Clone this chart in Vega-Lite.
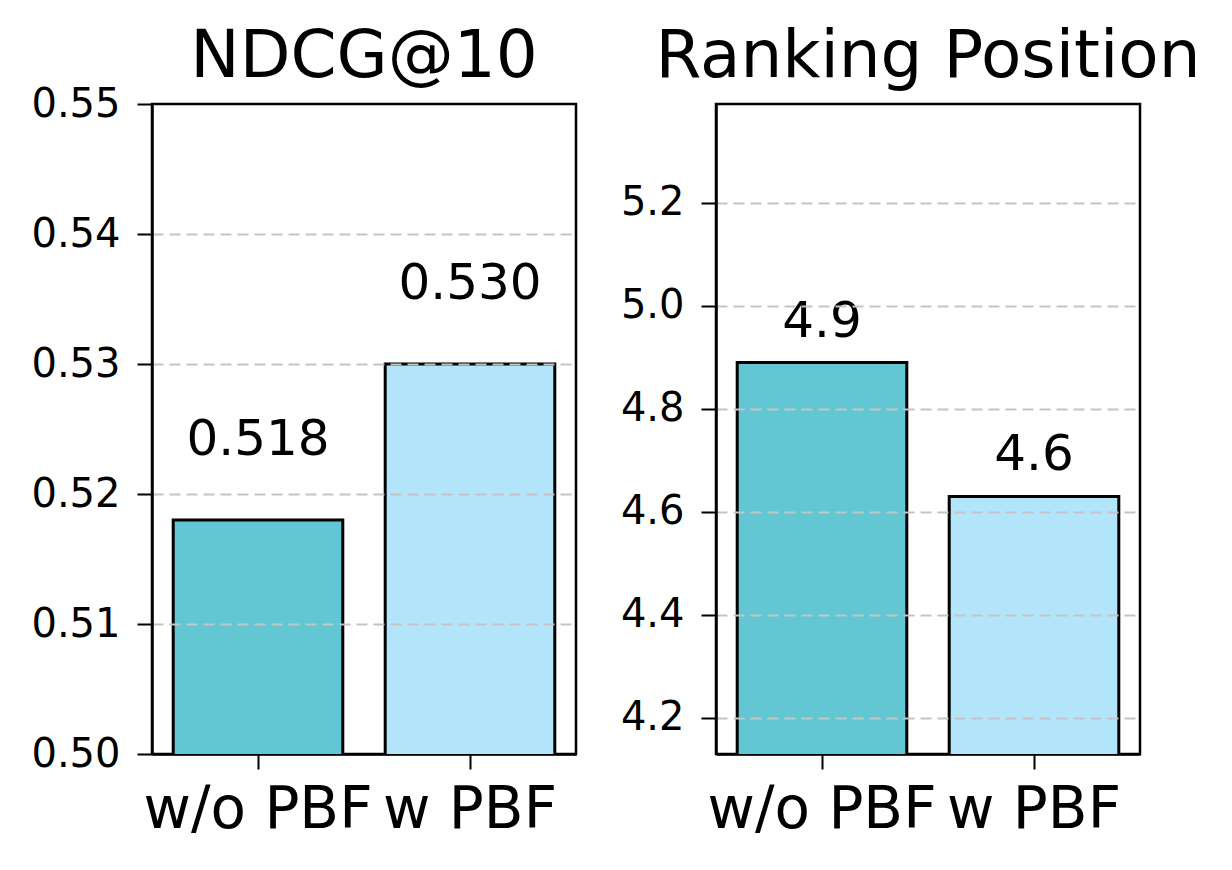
{
  "$schema": "https://vega.github.io/schema/vega-lite/v6.json",
  "background": "white",
  "padding": {"left": 29, "top": 22, "right": 5, "bottom": 5},
  "bounds": "flush",
  "spacing": 140,
  "config": {
    "font": "DejaVu Sans",
    "view": {"stroke": "black", "strokeWidth": 2.5},
    "title": {"fontSize": 66, "fontWeight": "normal", "color": "black", "frame": "group", "baseline": "alphabetic", "offset": 24, "anchor": "middle"},
    "axis": {
      "domainColor": "black", "domainWidth": 2.5, "tickColor": "black", "tickWidth": 2,
      "labelColor": "black", "labelFont": "DejaVu Sans", "title": null, "labelLimit": 0
    }
  },
  "data": {"values": [
    {"metric": "NDCG@10", "method": "w/o PBF", "value": 0.518},
    {"metric": "NDCG@10", "method": "w PBF", "value": 0.530},
    {"metric": "Ranking Position", "method": "w/o PBF", "value": 4.89},
    {"metric": "Ranking Position", "method": "w PBF", "value": 4.63}
  ]},
  "hconcat": [
    {
      "title": {"text": "NDCG@10", "dy": 31},
      "width": 424, "height": 650,
      "transform": [{"filter": "datum.metric === 'NDCG@10'"}],
      "encoding": {
        "x": {"field": "method", "type": "nominal", "sort": ["w/o PBF", "w PBF"],
              "scale": {"paddingInner": 0.2, "paddingOuter": 0.1},
              "axis": {"labelAngle": 0, "labelFontSize": 58, "tickSize": 15, "labelPadding": 12, "grid": false, "labelLimit": 0, "labelOverlap": false}},
        "y": {"field": "value", "type": "quantitative",
              "scale": {"domain": [0.5, 0.55], "nice": false, "zero": false},
              "axis": {"values": [0.5, 0.51, 0.52, 0.53, 0.54, 0.55], "format": ".2f", "labelFontSize": 40, "tickSize": 15, "labelPadding": 17,
                       "grid": true, "gridColor": "#c4c4c4", "gridWidth": 2, "gridDash": [11, 6], "zindex": 1,
                       "gridOpacity": {"condition": {"test": "datum.value <= 0.5001 || datum.value >= 0.5499", "value": 0}, "value": 1}}}
      },
      "layer": [
        {"mark": {"type": "bar", "stroke": "black", "strokeWidth": 3, "clip": true},
         "encoding": {"color": {"field": "method", "type": "nominal", "legend": null,
                      "scale": {"domain": ["w/o PBF", "w PBF"], "range": ["#63C7D3", "#B3E5FA"]}}}},
        {"mark": {"type": "text", "fontSize": 50, "color": "black", "baseline": "alphabetic", "align": "center", "dy": -65},
         "encoding": {"text": {"field": "value", "type": "quantitative", "format": ".3f"}}}
      ]
    },
    {
      "title": {"text": "Ranking Position", "dy": 11},
      "width": 424, "height": 650,
      "transform": [{"filter": "datum.metric === 'Ranking Position'"}],
      "encoding": {
        "x": {"field": "method", "type": "nominal", "sort": ["w/o PBF", "w PBF"],
              "scale": {"paddingInner": 0.2, "paddingOuter": 0.1},
              "axis": {"labelAngle": 0, "labelFontSize": 58, "tickSize": 15, "labelPadding": 12, "grid": false, "labelLimit": 0, "labelOverlap": false}},
        "y": {"field": "value", "type": "quantitative",
              "scale": {"domain": [4.13, 5.392], "nice": false, "zero": false},
              "axis": {"values": [4.2, 4.4, 4.6, 4.8, 5.0, 5.2], "format": ".1f", "labelFontSize": 40, "tickSize": 15, "labelPadding": 17,
                       "grid": true, "gridColor": "#c4c4c4", "gridWidth": 2, "gridDash": [11, 6], "zindex": 1}}
      },
      "layer": [
        {"mark": {"type": "bar", "stroke": "black", "strokeWidth": 3, "clip": true},
         "encoding": {"color": {"field": "method", "type": "nominal", "legend": null,
                      "scale": {"domain": ["w/o PBF", "w PBF"], "range": ["#63C7D3", "#B3E5FA"]}}}},
        {"mark": {"type": "text", "fontSize": 50, "color": "black", "baseline": "alphabetic", "align": "center", "dy": -26},
         "encoding": {"text": {"field": "value", "type": "quantitative", "format": ".1f"}}}
      ]
    }
  ],
  "resolve": {"scale": {"y": "independent", "color": "shared"}}
}
